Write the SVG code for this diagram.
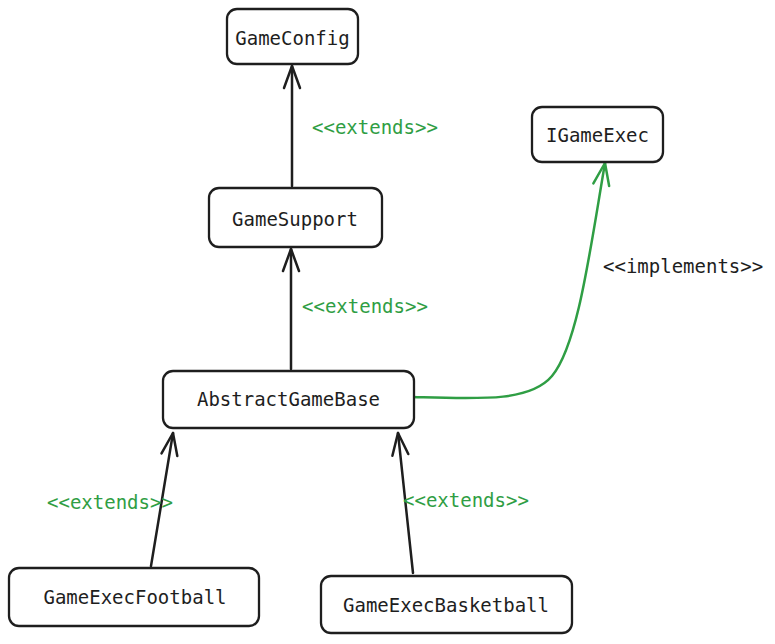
<svg xmlns="http://www.w3.org/2000/svg" width="775" height="644" viewBox="0 0 775 644">
<defs>
<style>
.box{fill:#ffffff;stroke:#1e1e1e;stroke-width:2.3;}
.t{font-family:"DejaVu Sans Mono","Liberation Mono",monospace;font-size:19px;fill:#1e1e1e;text-anchor:middle;}
.lbl{font-family:"DejaVu Sans Mono","Liberation Mono",monospace;font-size:19px;fill:#2f9e44;}
.lblk{font-family:"DejaVu Sans Mono","Liberation Mono",monospace;font-size:19px;fill:#1e1e1e;}
.edge{fill:none;stroke:#1e1e1e;stroke-width:2.5;stroke-linecap:round;}
.edgeg{fill:none;stroke:#2f9e44;stroke-width:2.5;stroke-linecap:round;}
</style>
<marker id="ah" markerUnits="userSpaceOnUse" viewBox="-26 -12 30 24" refX="0" refY="0" markerWidth="30" markerHeight="24" orient="auto">
<path d="M-22,-8 L0,0 L-22,8" fill="none" stroke="#1e1e1e" stroke-width="2.5" stroke-linecap="round" stroke-linejoin="round"/>
</marker>
<marker id="ahg" markerUnits="userSpaceOnUse" viewBox="-26 -12 30 24" refX="0" refY="0" markerWidth="30" markerHeight="24" orient="auto">
<path d="M-22,-8 L0,0 L-22,8" fill="none" stroke="#2f9e44" stroke-width="2.5" stroke-linecap="round" stroke-linejoin="round"/>
</marker>
</defs>
<rect width="775" height="644" fill="#ffffff"/>
<g id="connectors">
<path class="edge" d="M292,186 L292,66" marker-end="url(#ah)"/>
<path class="edge" d="M291,369 L291,249" marker-end="url(#ah)"/>
<path class="edge" d="M151,566 L173,433" marker-end="url(#ah)"/>
<path class="edge" d="M413,573 L398,433" marker-end="url(#ah)"/>
<path class="edgeg" d="M413,397 C480,399 530,402 552,376 C578,345 590,250 605,163" marker-end="url(#ahg)"/>
<text class="lbl" x="312" y="134">&lt;&lt;extends&gt;&gt;</text>
<text class="lbl" x="302" y="313">&lt;&lt;extends&gt;&gt;</text>
<text class="lbl" x="47" y="509">&lt;&lt;extends&gt;&gt;</text>
<text class="lbl" x="403" y="507">&lt;&lt;extends&gt;&gt;</text>
<text class="lblk" x="603" y="273">&lt;&lt;implements&gt;&gt;</text>
</g>
<g id="GameConfig">
<rect class="box" x="227" y="9" width="131" height="55" rx="10"/>
<text class="t" x="292.5" y="45">GameConfig</text>
</g>
<g id="IGameExec">
<rect class="box" x="532" y="107" width="131" height="55" rx="10"/>
<text class="t" x="597.5" y="142">IGameExec</text>
</g>
<g id="GameSupport">
<rect class="box" x="209" y="188" width="173" height="59" rx="10"/>
<text class="t" x="295" y="226">GameSupport</text>
</g>
<g id="AbstractGameBase">
<rect class="box" x="163" y="371" width="251" height="57" rx="10"/>
<text class="t" x="288.5" y="406">AbstractGameBase</text>
</g>
<g id="GameExecFootball">
<rect class="box" x="9" y="568" width="250" height="58" rx="10"/>
<text class="t" x="135" y="604">GameExecFootball</text>
</g>
<g id="GameExecBasketball">
<rect class="box" x="321" y="576" width="251" height="57" rx="10"/>
<text class="t" x="446" y="612">GameExecBasketball</text>
</g>
</svg>
